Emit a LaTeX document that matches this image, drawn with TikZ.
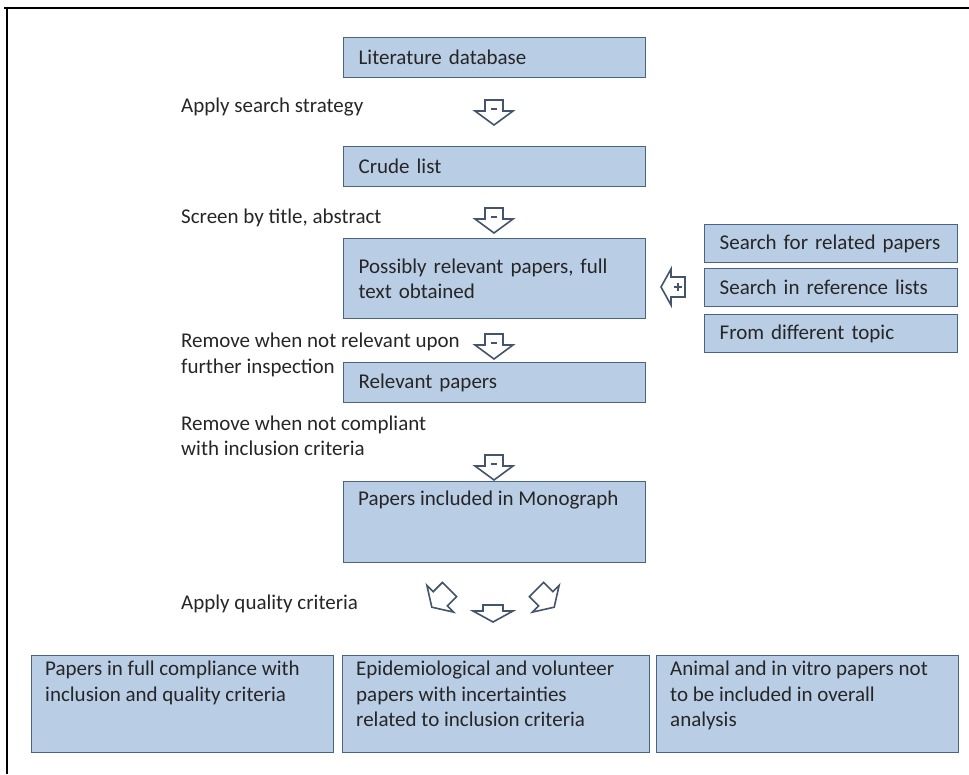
\documentclass[tikz,border=0pt]{standalone}
\usepackage{fontspec}
\setmainfont{Carlito}
\definecolor{boxfill}{HTML}{B9CDE5}
\definecolor{boxline}{HTML}{4A6285}
\definecolor{arrline}{HTML}{44546A}
\definecolor{txtcol}{HTML}{262626}
\begin{document}
\begin{tikzpicture}[x=1pt,y=-1pt,
  every node/.style={font=\fontsize{21}{25.5}\selectfont, text=txtcol},
  box/.style={draw=boxline, fill=boxfill, line width=1.3pt, inner xsep=15pt, inner ysep=0pt, anchor=north west, align=left},
  mainbox/.style={box, minimum width=302pt, text width=272pt},
  sidebox/.style={box, minimum width=253pt, minimum height=38pt, text width=223pt},
  botbox/.style={box, minimum height=97pt},
  boxtext/.style={inner sep=0pt, anchor=north west, align=left},
  lbl/.style={inner sep=0pt, anchor=west, align=left},
  blockarrow/.style={draw=arrline, fill=white, line width=1.6pt, line join=miter}
]
\useasboundingbox (0,0) rectangle (969,774);
% frame
\draw[line width=2pt] (4,8) -- (969,8);
\draw[line width=2pt] (7,8) -- (7,774);

% main column boxes
\node[mainbox, minimum height=40pt] (lit) at (343,37) {Literature database};
\node[mainbox, minimum height=40pt] (crude) at (343,146) {Crude list};
\node[mainbox, minimum height=80pt] (poss) at (343,238) {Possibly relevant papers, full text obtained};
\node[mainbox, minimum height=40pt] (rel) at (343,362) {Relevant papers};
\node[mainbox, minimum height=81pt] (mono) at (343,481) {};
\node[boxtext] (monot) at ([shift={(15,10)}]mono.north west) {Papers included in Monograph};

% side boxes
\node[sidebox] (s1) at (704,224) {Search for related papers};
\node[sidebox] (s2) at (704,268) {Search in reference lists};
\node[sidebox] (s3) at (704,314) {From different topic};

% bottom boxes
\node[botbox, minimum width=302pt] (b1) at (31,655) {};
\node[boxtext] (b1t) at ([shift={(14,6)}]b1.north west) {Papers in full compliance with\\inclusion and quality criteria};
\node[botbox, minimum width=307pt] (b2) at (342,655) {};
\node[boxtext] (b2t) at ([shift={(14,6)}]b2.north west) {Epidemiological and volunteer\\papers with incertainties\\related to inclusion criteria};
\node[botbox, minimum width=302pt] (b3) at (656,655) {};
\node[boxtext] (b3t) at ([shift={(14,6)}]b3.north west) {Animal and in vitro papers not\\to be included in overall\\analysis};

% labels
\node[lbl] (l1) at (181,107) {Apply search strategy};
\node[lbl] (l2) at (181,218) {Screen by title, abstract};
\node[lbl] (l3) at (181,355) {Remove when not relevant upon\\further inspection};
\node[lbl] (l4) at (181,436) {Remove when not compliant\\with inclusion criteria};
\node[lbl] (l5) at (181,604) {Apply quality criteria};

% minus block arrows (down)
\foreach \yy in {100,208,334,455}{
  \begin{scope}[shift={(494,\yy)}]
    \draw[blockarrow] (-9,0) -- (9,0) -- (9,11) -- (19,11) -- (0,25) -- (-19,11) -- (-9,11) -- cycle;
    \draw[arrline, line width=1.4pt] (-3,9) -- (3,9);
  \end{scope}
}
% plus block arrow (left)
\begin{scope}[shift={(675,287)}]
  \draw[blockarrow] (10,-10) -- (10,10) -- (-4,10) -- (-4,18) -- (-14,0) -- (-4,-18) -- (-4,-10) -- cycle;
  \draw[arrline, line width=1.4pt] (-1,0) -- (7,0) (3,-4) -- (3,4);
\end{scope}

% quality criteria arrows
\begin{scope}[shift={(493,605)}]
  \draw[blockarrow] (-10,0) -- (10,0) -- (10,6) -- (20,6) -- (0,17) -- (-20,6) -- (-10,6) -- cycle;
\end{scope}
\begin{scope}[shift={(441,598)}, rotate=-45]
  \draw[blockarrow] (-10,-12) -- (10,-12) -- (10,1) -- (19,1) -- (0,13) -- (-19,1) -- (-10,1) -- cycle;
\end{scope}
\begin{scope}[shift={(545,598)}, rotate=45]
  \draw[blockarrow] (-10,-12) -- (10,-12) -- (10,1) -- (19,1) -- (0,13) -- (-19,1) -- (-10,1) -- cycle;
\end{scope}
\end{tikzpicture}
\end{document}
